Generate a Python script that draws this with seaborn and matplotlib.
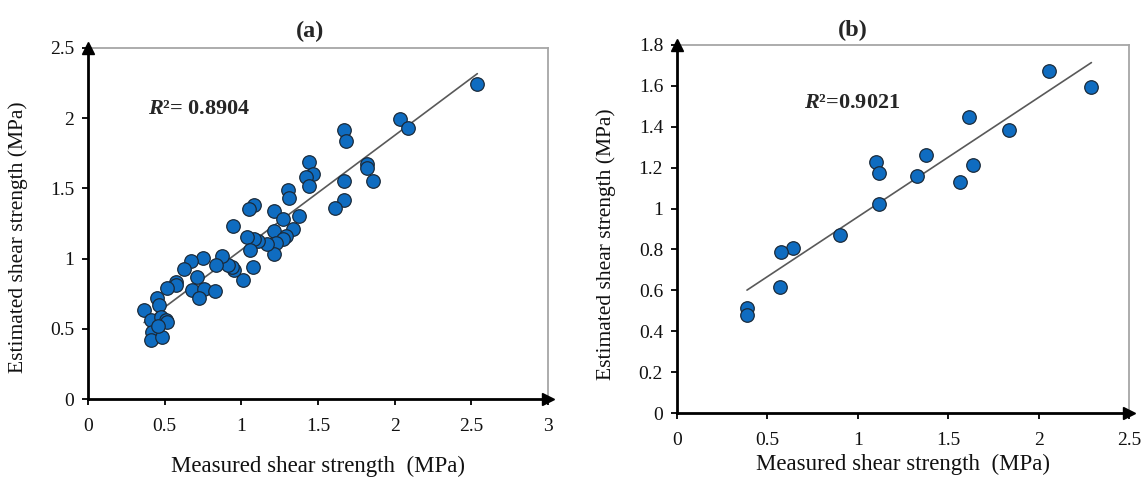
import numpy as np
import pandas as pd
import matplotlib
matplotlib.use("Agg")
import matplotlib.pyplot as plt
import seaborn as sns

# Panel (a): measured vs. estimated shear strength (MPa)
meas_a = [2.539, 2.036, 2.086, 1.668, 1.683, 1.818, 1.818, 1.857, 1.668, 1.668,
          1.611, 1.439, 1.470, 1.422, 1.443, 1.304, 1.311, 1.374, 1.215, 1.274,
          1.080, 1.052, 0.945, 1.215, 1.335, 1.291, 1.269, 1.226, 1.215, 1.165,
          1.106, 1.080, 1.034, 1.058, 1.073, 1.008, 0.954, 0.938, 0.910, 0.875,
          0.838, 0.751, 0.671, 0.627, 0.573, 0.573, 0.518, 0.714, 0.681, 0.758,
          0.727, 0.827, 0.453, 0.464, 0.366, 0.409, 0.475, 0.507, 0.514, 0.416,
          0.409, 0.481, 0.457]
est_a = [2.246, 1.997, 1.928, 1.918, 1.840, 1.671, 1.648, 1.550, 1.550, 1.420,
         1.360, 1.688, 1.603, 1.579, 1.515, 1.491, 1.432, 1.301, 1.341, 1.284,
         1.379, 1.356, 1.235, 1.194, 1.213, 1.159, 1.142, 1.111, 1.035, 1.106,
         1.123, 1.140, 1.154, 1.064, 0.938, 0.845, 0.921, 0.940, 0.957, 1.016,
         0.957, 1.002, 0.985, 0.928, 0.833, 0.810, 0.791, 0.869, 0.779, 0.786,
         0.719, 0.767, 0.719, 0.670, 0.636, 0.565, 0.584, 0.565, 0.548, 0.475,
         0.418, 0.442, 0.518]

# Panel (b)
meas_b = [2.057, 2.292, 1.614, 1.836, 1.378, 1.635, 1.568, 1.325, 1.103, 1.118,
          1.118, 0.904, 0.642, 0.577, 0.568, 0.387, 0.387]
est_b = [1.672, 1.597, 1.446, 1.385, 1.262, 1.213, 1.131, 1.157, 1.226, 1.172,
         1.021, 0.869, 0.808, 0.789, 0.618, 0.513, 0.477]

r2_text_a = "²= 0.8904"
r2_text_b = "²=0.9021"

xticks_a = [0, 0.5, 1, 1.5, 2, 2.5, 3]
yticks_a = [0, 0.5, 1, 1.5, 2, 2.5]
xticks_b = [0, 0.5, 1, 1.5, 2, 2.5]
yticks_b = [0, 0.2, 0.4, 0.6, 0.8, 1, 1.2, 1.4, 1.6, 1.8]

xlabel = "Measured shear strength  (MPa)"
ylabel = "Estimated shear strength (MPa)"

sns.set_theme(style="white")
plt.rcParams["font.family"] = ["Liberation Serif", "DejaVu Serif"]
plt.rcParams["mathtext.fontset"] = "custom"
plt.rcParams["mathtext.it"] = "Liberation Serif:italic:bold"
plt.rcParams["mathtext.rm"] = "Liberation Serif:bold"

W, H = 1143, 479
fig = plt.figure(figsize=(W / 100, H / 100), dpi=100)
fig.patch.set_facecolor("white")

def px_axes(l, r, t, b):
    return fig.add_axes([l / W, 1 - b / H, (r - l) / W, (b - t) / H])

ax_a = px_axes(88, 548, 48, 399)
ax_b = px_axes(677, 1129, 45, 413)

def fmt(v):
    return "%g" % v

def draw_panel(ax, x, y, xt, yt, title, r2_text, r2_pos, title_pos, xlab_y, ylab_x):
    df = pd.DataFrame({"measured": x, "estimated": y})
    sns.regplot(data=df, x="measured", y="estimated", ax=ax, scatter=False,
                ci=None, color="#595959", line_kws={"lw": 1.2, "zorder": 2})
    sns.scatterplot(data=df, x="measured", y="estimated", ax=ax, s=95,
                    color="#0F6CC0", edgecolor="#1a2a3a", linewidth=0.9,
                    zorder=3)
    ax.set_xlim(xt[0], xt[-1])
    ax.set_ylim(yt[0], yt[-1])
    ax.set_xticks(xt)
    ax.set_xticklabels([fmt(v) for v in xt])
    ax.set_yticks(yt)
    ax.set_yticklabels([fmt(v) for v in yt])
    ax.tick_params(axis="both", which="major", direction="out", length=4,
                   width=1.3, color="black", labelsize=14, labelcolor="#111111",
                   bottom=True, left=True)
    ax.tick_params(axis="x", pad=10)
    ax.tick_params(axis="y", pad=6)
    for side in ("top", "right"):
        ax.spines[side].set_color("#a6a6a6")
        ax.spines[side].set_linewidth(1.3)
    for side in ("left", "bottom"):
        ax.spines[side].set_color("black")
        ax.spines[side].set_linewidth(2.0)
        ax.spines[side].set_zorder(4)
    # arrow heads at the ends of both axes
    ax.plot(1, 0, marker=">", color="black", ms=8, transform=ax.transAxes,
            clip_on=False, zorder=5)
    ax.plot(0, 1, marker="^", color="black", ms=8, transform=ax.transAxes,
            clip_on=False, zorder=5)
    ax.set_xlabel(xlabel, fontsize=16.5, color="#111111")
    ax.set_ylabel(ylabel, fontsize=15.5, color="#111111")
    ax.xaxis.set_label_coords(0.5, xlab_y)
    ax.yaxis.set_label_coords(ylab_x, 0.46)
    ax.text(title_pos[0], title_pos[1], title, transform=ax.transAxes,
            ha="center", va="center", fontsize=17.5, fontweight="bold")
    ax.text(r2_pos[0], r2_pos[1], "$R$" + r2_text,
            ha="left", va="center", fontsize=16, fontweight="bold")
    ax.grid(False)

draw_panel(ax_a, meas_a, est_a, xticks_a, yticks_a, "(a)", r2_text_a,
           (0.39, 2.066), (0.483, 1.048), -0.163, -0.13)
draw_panel(ax_b, meas_b, est_b, xticks_b, yticks_b, "(b)", r2_text_b,
           (0.705, 1.515), (0.39, 1.04), -0.112, -0.135)

fig.savefig("out.png", dpi=100, facecolor="white")
